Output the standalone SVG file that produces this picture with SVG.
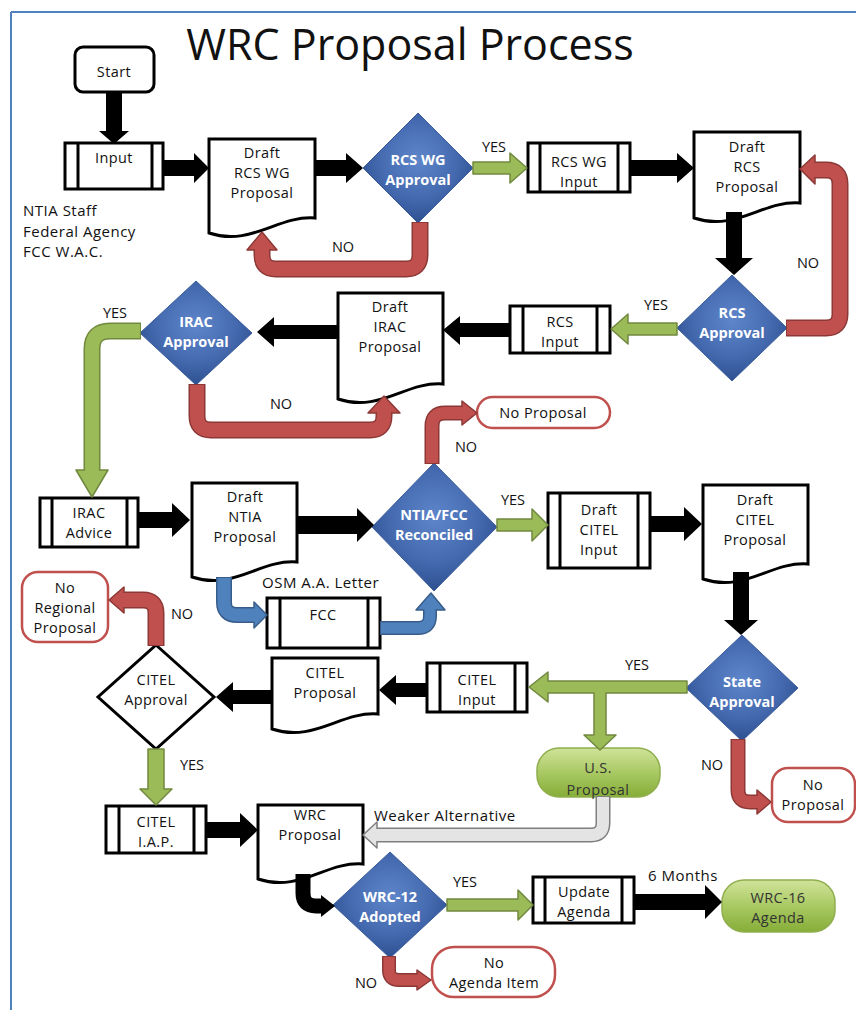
<svg xmlns="http://www.w3.org/2000/svg" width="856" height="1010" viewBox="0 0 856 1010">
<style>
text{font-family:"Open Sans","Liberation Sans",sans-serif;fill:#111;}
.t{font-size:14.5px;letter-spacing:0.4px;text-anchor:middle;}
.d{font-size:14.5px;font-weight:bold;fill:#fff;text-anchor:middle;}
.l{font-size:14.5px;text-anchor:middle;}
.s{font-size:15px;letter-spacing:0.5px;}
.box{fill:#fff;stroke:#000;stroke-width:3;}
.ln{stroke:#000;stroke-width:3;}
.dia{fill:url(#gBlue);stroke:#3A5C9C;stroke-width:1;}
.term{fill:#fff;stroke:#C0504D;stroke-width:2.5;}
.gterm{fill:url(#gGreen);stroke:#8FAE4E;stroke-width:1.5;}
.blk{fill:#000;}
.gr{fill:#9BBB59;stroke:#71893F;stroke-width:1.5;stroke-linejoin:round;}
.ro{fill:none;stroke:#8C3836;}
.ri{fill:none;stroke:#C0504D;}
.rh{fill:#C0504D;stroke:#8C3836;stroke-width:1.5;stroke-linejoin:round;}
.go{fill:none;stroke:#71893F;}
.gi{fill:none;stroke:#9BBB59;}
.bo{fill:none;stroke:#385D8A;}
.bi{fill:none;stroke:#4F81BD;}
.bh{fill:#4F81BD;stroke:#385D8A;stroke-width:1.5;stroke-linejoin:round;}
.yo{fill:none;stroke:#7F7F7F;}
.yi{fill:none;stroke:#E4E4E4;}
.yh{fill:#E4E4E4;stroke:#7F7F7F;stroke-width:1.5;stroke-linejoin:round;}
.gt{fill:#333;}
</style>
<defs>
<radialGradient id="gBlue" cx="50%" cy="42%" r="60%">
<stop offset="0" stop-color="#5E86CB"/>
<stop offset="0.6" stop-color="#4469AE"/>
<stop offset="1" stop-color="#2C4E8E"/>
</radialGradient>
<linearGradient id="gGreen" x1="0" y1="0" x2="0" y2="1">
<stop offset="0" stop-color="#D0E39A"/>
<stop offset="0.5" stop-color="#A9C963"/>
<stop offset="1" stop-color="#86AD38"/>
</linearGradient>
</defs>
<rect width="856" height="1010" fill="#fff"/>
<g id="frame" fill="none" stroke="#4F81BD" stroke-width="2">
<line x1="11" y1="12" x2="856" y2="12"/>
<line x1="11" y1="12" x2="11" y2="1010"/>
</g>
<text id="title" x="410" y="60" style="font-size:43px;text-anchor:middle;fill:#111;">WRC Proposal Process</text>

<g id="start"><rect class="box" x="75" y="47" width="79" height="45" rx="8"/><text class="t" x="114" y="77">Start</text></g>
<g id="input"><rect class="box" x="65" y="143" width="98" height="46"/><line class="ln" x1="78" y1="143" x2="78" y2="189"/><line class="ln" x1="152" y1="143" x2="152" y2="189"/><text class="t" x="114" y="163">Input</text></g>
<g id="sources"><text class="s" x="23" y="216">NTIA Staff</text><text class="s" x="23" y="236.5">Federal Agency</text><text class="s" x="23" y="257">FCC W.A.C.</text></g>
<g id="draftRcsWg"><path class="box" d="M209,139 H315 V218 C278,215 251,247 209,233 Z"/><text class="t" x="262" y="158">Draft</text><text class="t" x="262" y="178">RCS WG</text><text class="t" x="262" y="198">Proposal</text></g>
<g id="rcsWgApproval"><polygon class="dia" points="418,113 473,168 418,223 363,168"/><text class="d" x="418" y="165">RCS WG</text><text class="d" x="418" y="185">Approval</text></g>
<g id="rcsWgInput"><rect class="box" x="528" y="143" width="102" height="49"/><line class="ln" x1="540" y1="143" x2="540" y2="192"/><line class="ln" x1="618" y1="143" x2="618" y2="192"/><text class="t" x="579" y="167">RCS WG</text><text class="t" x="579" y="187">Input</text></g>
<g id="draftRcs"><path class="box" d="M694,132 H800 V203 C763,200 736,232 694,218 Z"/><text class="t" x="747" y="152">Draft</text><text class="t" x="747" y="172">RCS</text><text class="t" x="747" y="192">Proposal</text></g>
<g id="rcsApproval"><polygon class="dia" points="732,275 787,328 732,381 677,328"/><text class="d" x="732" y="318">RCS</text><text class="d" x="732" y="338">Approval</text></g>
<g id="rcsInput"><rect class="box" x="510" y="306" width="100" height="47"/><line class="ln" x1="523" y1="306" x2="523" y2="353"/><line class="ln" x1="597" y1="306" x2="597" y2="353"/><text class="t" x="560" y="327">RCS</text><text class="t" x="560" y="347">Input</text></g>
<g id="draftIrac"><path class="box" d="M338,293 H443 V384 C406,381 380,413 338,399 Z"/><text class="t" x="390" y="312">Draft</text><text class="t" x="390" y="332">IRAC</text><text class="t" x="390" y="352">Proposal</text></g>
<g id="iracApproval"><polygon class="dia" points="196,281 252,333 196,385 140,333"/><text class="d" x="196" y="327">IRAC</text><text class="d" x="196" y="347">Approval</text></g>
<g id="noProposal1"><rect class="term" x="477" y="397" width="133" height="31" rx="15.5"/><text class="t" x="543" y="418">No Proposal</text></g>
<g id="iracAdvice"><rect class="box" x="40" y="498" width="98" height="49"/><line class="ln" x1="52" y1="498" x2="52" y2="547"/><line class="ln" x1="127" y1="498" x2="127" y2="547"/><text class="t" x="89" y="518">IRAC</text><text class="t" x="89" y="538">Advice</text></g>
<g id="draftNtia"><path class="box" d="M192,483 H297 V562 C260,559 234,591 192,577 Z"/><text class="t" x="245" y="502">Draft</text><text class="t" x="245" y="522">NTIA</text><text class="t" x="245" y="542">Proposal</text></g>
<g id="ntiaFcc"><polygon class="dia" points="434,463 497,527 434,591 372,527"/><text class="d" x="434" y="520">NTIA/FCC</text><text class="d" x="434" y="540">Reconciled</text></g>
<g id="draftCitelInput"><rect class="box" x="548" y="493" width="102" height="75"/><line class="ln" x1="560" y1="493" x2="560" y2="568"/><line class="ln" x1="638" y1="493" x2="638" y2="568"/><text class="t" x="599" y="515">Draft</text><text class="t" x="599" y="535">CITEL</text><text class="t" x="599" y="555">Input</text></g>
<g id="draftCitel"><path class="box" d="M703,485 H808 V564 C771,561 745,593 703,579 Z"/><text class="t" x="755" y="505">Draft</text><text class="t" x="755" y="525">CITEL</text><text class="t" x="755" y="545">Proposal</text></g>
<g id="noRegional"><rect class="term" x="22" y="572" width="86" height="70" rx="16"/><text class="t" x="65" y="593">No</text><text class="t" x="65" y="613">Regional</text><text class="t" x="65" y="633">Proposal</text></g>
<g id="fcc"><rect class="box" x="267" y="598" width="113" height="50"/><line class="ln" x1="280" y1="598" x2="280" y2="648"/><line class="ln" x1="368" y1="598" x2="368" y2="648"/><text class="t" x="323" y="620">FCC</text></g>
<g id="citelApproval"><polygon points="156,645 214,697 156,749 98,697" fill="#fff" stroke="#000" stroke-width="3"/><text class="t" x="156" y="685">CITEL</text><text class="t" x="156" y="705">Approval</text></g>
<g id="citelProposal"><path class="box" d="M272,658 H378 V714 C341,711 314,743 272,729 Z"/><text class="t" x="325" y="678">CITEL</text><text class="t" x="325" y="698">Proposal</text></g>
<g id="citelInput"><rect class="box" x="427" y="663" width="100" height="49"/><line class="ln" x1="440" y1="663" x2="440" y2="712"/><line class="ln" x1="515" y1="663" x2="515" y2="712"/><text class="t" x="477" y="685">CITEL</text><text class="t" x="477" y="705">Input</text></g>
<g id="stateApproval"><polygon class="dia" points="742,635 798,688 742,741 686,688"/><text class="d" x="742" y="687">State</text><text class="d" x="742" y="707">Approval</text></g>
<g id="usProposal"><rect class="gterm" x="537" y="748" width="123" height="49" rx="22"/><text class="t gt" x="598" y="773">U.S.</text><text class="t gt" x="598" y="795">Proposal</text></g>
<g id="noProposal2"><rect class="term" x="772" y="768" width="83" height="54" rx="16"/><text class="t" x="813" y="790">No</text><text class="t" x="813" y="810">Proposal</text></g>
<g id="citelIap"><rect class="box" x="106" y="806" width="100" height="47"/><line class="ln" x1="119" y1="806" x2="119" y2="853"/><line class="ln" x1="194" y1="806" x2="194" y2="853"/><text class="t" x="156" y="827">CITEL</text><text class="t" x="156" y="847">I.A.P.</text></g>
<g id="wrcProposal"><path class="box" d="M258,805 H363 V864 C326,861 300,893 258,879 Z"/><text class="t" x="310" y="820">WRC</text><text class="t" x="310" y="840">Proposal</text></g>
<g id="wrc12"><polygon class="dia" points="390,852 447,905 390,958 333,905"/><text class="d" x="390" y="902">WRC-12</text><text class="d" x="390" y="922">Adopted</text></g>
<g id="updateAgenda"><rect class="box" x="533" y="877" width="101" height="46"/><line class="ln" x1="545" y1="877" x2="545" y2="923"/><line class="ln" x1="622" y1="877" x2="622" y2="923"/><text class="t" x="584" y="897">Update</text><text class="t" x="584" y="917">Agenda</text></g>
<g id="wrc16"><rect class="gterm" x="722" y="880" width="113" height="52" rx="22"/><text class="t gt" x="778" y="903">WRC-16</text><text class="t gt" x="778" y="923">Agenda</text></g>
<g id="noAgenda"><rect class="term" x="432" y="947" width="123" height="50" rx="22"/><text class="t" x="494" y="968">No</text><text class="t" x="494" y="988">Agenda Item</text></g>

<g id="connectors">
<polygon class="blk" points="106,92 122,92 122,131 129,131 114,144 99,131 106,131"/>
<polygon class="blk" points="163,160 194,160 194,153 209,168 194,183 194,176 163,176"/>
<polygon class="blk" points="315,160 346,160 346,153 363,168 346,183 346,176 315,176"/>
<polygon class="blk" points="630,160 677,160 677,153 694,168 677,183 677,176 630,176"/>
<polygon class="blk" points="726,212 742,212 742,258 753,258 734,275 715,258 726,258"/>
<polygon class="blk" points="510,323 460,323 460,316 443,330 460,345 460,337 510,337"/>
<polygon class="blk" points="338,325 274,325 274,317 257,332 274,347 274,339 338,339"/>
<polygon class="blk" points="138,512 172,512 172,503 190,520 172,537 172,528 138,528"/>
<polygon class="blk" points="297,516 357,516 357,508 374,525 357,542 357,534 297,534"/>
<polygon class="blk" points="650,516 684,516 684,507 702,524 684,541 684,532 650,532"/>
<polygon class="blk" points="733,572 749,572 749,620 758,620 741,635 724,620 733,620"/>
<polygon class="blk" points="427,683 396,683 396,675 379,690 396,705 396,697 427,697"/>
<polygon class="blk" points="272,690 233,690 233,682 216,697 233,712 233,704 272,704"/>
<polygon class="blk" points="206,822 240,822 240,813 258,830 240,847 240,838 206,838"/>
<polygon class="blk" points="634,894 705,894 705,885 722,902 705,919 705,910 634,910"/>
<path d="M303,874 V893 Q303,906 316,906 H323" fill="none" stroke="#000" stroke-width="15"/>
<polygon class="blk" points="321,895 335,906 321,917"/>

<polygon class="gr" points="473,162 510,162 510,153 527,168 510,183 510,174 473,174"/>
<polygon class="gr" points="677,323 628,323 628,314 611,329 628,344 628,335 677,335"/>
<polygon class="gr" points="497,519 532,519 532,509 548,525 532,541 532,531 497,531"/>
<polygon class="gr" points="148,749 164,749 164,789 172,789 156,805 140,789 148,789"/>
<polygon class="gr" points="447,899 518,899 518,890 533,905 518,920 518,911 447,911"/>
<polygon class="gr" points="687,681 548,681 548,672 529,687 548,702 548,693 594,693 594,735 584,735 600,750 616,735 606,735 606,693 687,693"/>
<path class="go" stroke-width="17" d="M141,331 H110 Q92,331 92,349 V472"/>
<polygon class="gr" points="76,470 108,470 92,497"/>
<path class="gi" stroke-width="14" d="M140,331 H110 Q92,331 92,349 V473"/>

<path class="ro" stroke-width="17" d="M420,222 V255 Q420,269 406,269 H276 Q262,269 262,255 V250"/>
<polygon class="rh" points="247,250 277,250 262,232"/>
<path class="ri" stroke-width="14" d="M420,223 V255 Q420,269 406,269 H276 Q262,269 262,255 V248"/>

<path class="ro" stroke-width="17" d="M786,328 H826 Q840,328 840,314 V184 Q840,170 826,170 H815"/>
<polygon class="rh" points="815,155 815,184 800,169"/>
<path class="ri" stroke-width="14" d="M787,328 H826 Q840,328 840,314 V184 Q840,170 826,170 H813"/>

<path class="ro" stroke-width="17" d="M197,384 V416 Q197,430 211,430 H370 Q384,430 384,416 V413"/>
<polygon class="rh" points="368,413 400,413 384,396"/>
<path class="ri" stroke-width="14" d="M197,385 V416 Q197,430 211,430 H370 Q384,430 384,416 V411"/>

<path class="ro" stroke-width="15" d="M432,464 V426 Q432,413 445,413 H462"/>
<polygon class="rh" points="462,401 462,425 477,413"/>
<path class="ri" stroke-width="12" d="M432,463 V426 Q432,413 445,413 H464"/>

<path class="ro" stroke-width="17" d="M156,646 V613 Q156,600 143,600 H124"/>
<polygon class="rh" points="124,587 124,613 109,600"/>
<path class="ri" stroke-width="14" d="M156,645 V613 Q156,600 143,600 H122"/>

<path class="ro" stroke-width="15" d="M738,739 V790 Q738,802 750,802 H757"/>
<polygon class="rh" points="757,790 757,814 771,802"/>
<path class="ri" stroke-width="12" d="M738,740 V790 Q738,802 750,802 H759"/>

<path class="ro" stroke-width="14" d="M389,956 V970 Q389,980 399,980 H417"/>
<polygon class="rh" points="417,970 417,990 431,980"/>
<path class="ri" stroke-width="11" d="M389,957 V970 Q389,980 399,980 H419"/>

<path class="bo" stroke-width="16" d="M224,577 V602 Q224,615 237,615 H254"/>
<polygon class="bh" points="254,602 254,628 267,615"/>
<path class="bi" stroke-width="13" d="M224,578 V602 Q224,615 237,615 H256"/>

<path class="bo" stroke-width="14" d="M380,628 H418 Q430,628 430,616 V610"/>
<polygon class="bh" points="416,610 445,610 431,593"/>
<path class="bi" stroke-width="11" d="M381,628 H418 Q430,628 430,616 V608"/>

<path class="yo" stroke-width="15" d="M603,796 V823 Q603,835 591,835 H377"/>
<polygon class="yh" points="377,822 377,848 363,835"/>
<path class="yi" stroke-width="12" d="M603,797 V823 Q603,835 591,835 H375"/>
</g>

<g id="labels">
<text class="l" x="494" y="152">YES</text>
<text class="l" x="343" y="252">NO</text>
<text class="l" x="808" y="268">NO</text>
<text class="l" x="656" y="310">YES</text>
<text class="l" x="115" y="318">YES</text>
<text class="l" x="281" y="409">NO</text>
<text class="l" x="466" y="452">NO</text>
<text class="l" x="513" y="505">YES</text>
<text class="s" x="262" y="588">OSM A.A. Letter</text>
<text class="l" x="182" y="619">NO</text>
<text class="l" x="637" y="670">YES</text>
<text class="l" x="712" y="770">NO</text>
<text class="l" x="192" y="770">YES</text>
<text class="s" x="374" y="821">Weaker Alternative</text>
<text class="s" x="648" y="881">6 Months</text>
<text class="l" x="465" y="887">YES</text>
<text class="l" x="366" y="988">NO</text>
</g>
</svg>
